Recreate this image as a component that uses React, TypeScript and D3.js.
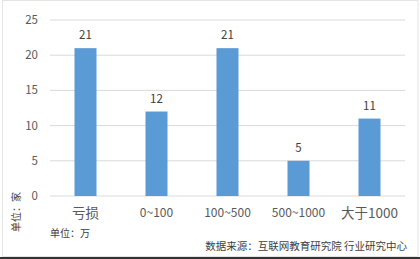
import React from "react";
import * as d3 from "d3";

const categories = ["亏损", "0~100", "100~500", "500~1000", "大于1000"];
const values = [21, 12, 21, 5, 11];
const yTicks = [0, 5, 10, 15, 20, 25];

const W = 420;
const H = 259;
const FONT = "'Microsoft YaHei', 'Noto Sans CJK SC', 'Noto Sans', sans-serif";

export default function App() {
  const x = d3.scaleBand<string>().domain(categories).range([50, 405]).paddingInner(0.69).paddingOuter(0.345);
  const y = d3.scaleLinear().domain([0, 25]).range([196, 20]);
  return (
    <svg width={W} height={H} style={{ position: "absolute", left: 0, top: 0, fontFamily: FONT }}>
      <rect x={0} y={0} width={W} height={H} fill="#fff" />
      <rect x={2.5} y={0.5} width={415.5} height={256} fill="none" stroke="#e4e4e4" />
      <line x1={0} x2={W} y1={258} y2={258} stroke="#333" strokeWidth={2} />
      {yTicks.map((t) => (
        <g key={t}>
          <line x1={50} x2={405} y1={y(t)} y2={y(t)} stroke="#d9d9d9" strokeWidth={1} />
          <text x={38} y={y(t)} dy="0.35em" textAnchor="end" fontSize={11.5} fill="#595959">{t}</text>
        </g>
      ))}
      {categories.map((c, i) => (
        <g key={c}>
          <rect x={x(c)} y={y(values[i])} width={x.bandwidth()} height={y(0) - y(values[i])} fill="#5b9bd5" />
          <text x={(x(c) as number) + x.bandwidth() / 2} y={y(values[i]) - 9} textAnchor="middle" fontSize={11.5} fill="#404040">{values[i]}</text>
          <text x={(x(c) as number) + x.bandwidth() / 2} y={213} dy="0.35em" textAnchor="middle" fontSize={/[\u4e00-\u9fff]/.test(c) ? 13.5 : 12} fill="#595959">{c}</text>
        </g>
      ))}
      <text transform="translate(16,212) rotate(-90)" textAnchor="middle" dy="0.35em" fontSize={10} fill="#404040">单位：家</text>
      <text x={50} y={233} dy="0.35em" fontSize={10} fill="#404040">单位：万</text>
      <text x={407} y={246} dy="0.35em" textAnchor="end" fontSize={10.5} fill="#404040">数据来源：互联网教育研究院 行业研究中心</text>
    </svg>
  );
}
